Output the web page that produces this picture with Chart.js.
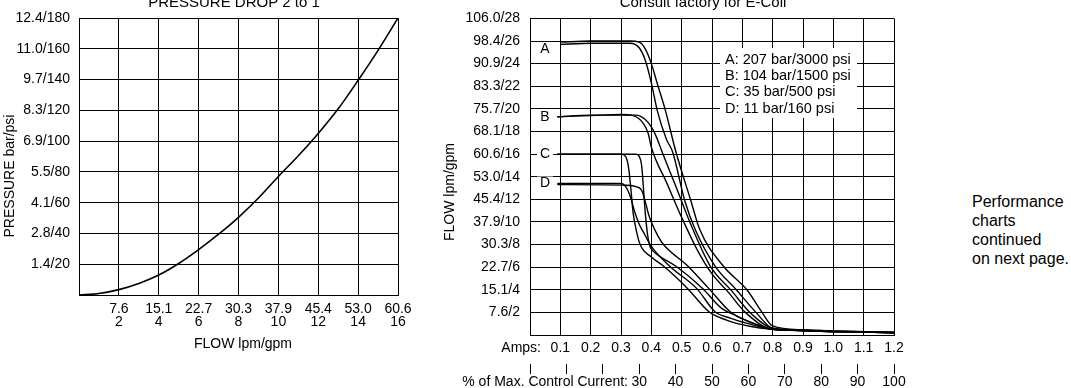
<!DOCTYPE html>
<html>
<head>
<meta charset="utf-8">
<script src="https://cdn.jsdelivr.net/npm/chart.js@4"></script>
<style>
  body { margin: 0; background: #fff; width: 1071px; height: 388px; overflow: hidden; position: relative;
         font-family: "Liberation Sans", Arial, sans-serif; }
  #pressureChart { position: absolute; left: 0; top: 0; }
  #flowChart { position: absolute; left: 430px; top: 0; }
  #note { position: absolute; left: 972px; top: 192px; font-size: 16px; line-height: 19px; color: #000; }
</style>
</head>
<body>
<canvas id="pressureChart" width="430" height="388"></canvas>
<canvas id="flowChart" width="510" height="388"></canvas>
<div id="note">Performance<br>charts<br>continued<br>on next page.</div>
<script>
// --- pressure drop chart ---
const dropFlowGpm = [0, 1, 2, 3, 4, 5, 6, 7, 8, 9, 10, 11, 12, 13, 14, 15, 16];
const dropPressurePsi = [0, 1, 3.5, 7.5, 13, 20.5, 29.5, 39.5, 50.5, 63, 77, 90.5, 105, 121, 139.5, 159, 180];
const dropLpmTicks = ["7.6", "15.1", "22.7", "30.3", "37.9", "45.4", "53.0", "60.6"];
const dropGpmTicks = ["2", "4", "6", "8", "10", "12", "14", "16"];
const dropPressureTicks = ["1.4/20", "2.8/40", "4.1/60", "5.5/80", "6.9/100", "8.3/120", "9.7/140", "11.0/160", "12.4/180"];

// --- flow vs current chart ---
const flowTicks = ["7.6/2", "15.1/4", "22.7/6", "30.3/8", "37.9/10", "45.4/12", "53.0/14",
                   "60.6/16", "68.1/18", "75.7/20", "83.3/22", "90.9/24", "98.4/26", "106.0/28"];
const ampTicks = ["0.1", "0.2", "0.3", "0.4", "0.5", "0.6", "0.7", "0.8", "0.9", "1.0", "1.1", "1.2"];
const currentTicks = ["30", "40", "50", "60", "70", "80", "90", "100"];
const curveNames = ["A", "B", "C", "D"];
const legendLines = ["A: 207 bar/3000 psi", "B: 104 bar/1500 psi", "C: 35 bar/500 psi", "D: 11 bar/160 psi"];

const a1Amps = [0.1, 0.2, 0.33, 0.36, 0.38, 0.40, 0.42, 0.45, 0.47, 0.51, 0.545, 0.61, 0.68, 0.745, 0.8, 0.9, 1.0, 1.1, 1.2];
const a1Flow = [25.7, 25.8, 25.8, 25.4, 24.3, 22.3, 19.8, 17.3, 16.2, 11.9, 9.3, 6.1, 4.0, 2.0, 0.6, 0.45, 0.35, 0.3, 0.25];
const a2Amps = [0.1, 0.2, 0.33, 0.36, 0.38, 0.40, 0.42, 0.445, 0.48, 0.53, 0.56, 0.637, 0.715, 0.765, 0.8, 0.9, 1.0, 1.1, 1.2];
const a2Flow = [25.9, 26.0, 26.0, 25.9, 25.3, 24.0, 22.2, 20.0, 16.3, 11.9, 9.3, 6.1, 4.0, 2.0, 0.8, 0.45, 0.35, 0.3, 0.25];

const b1Amps = [0.09, 0.2, 0.3, 0.34, 0.374, 0.39, 0.40, 0.45, 0.50, 0.55, 0.60, 0.65, 0.71, 0.8, 0.9, 1.0, 1.1, 1.2];
const b1Flow = [19.3, 19.4, 19.5, 19.4, 18.7, 17.8, 16.6, 13.5, 10.4, 7.6, 5.4, 3.9, 2.0, 0.5, 0.4, 0.3, 0.3, 0.2];
const b2Amps = [0.09, 0.2, 0.35, 0.378, 0.40, 0.417, 0.434, 0.48, 0.533, 0.594, 0.665, 0.725, 0.8, 0.9, 1.0, 1.1, 1.2];
const b2Flow = [19.3, 19.45, 19.45, 19.1, 18.4, 17.5, 16.3, 13.2, 9.6, 6.1, 3.9, 2.0, 0.6, 0.4, 0.3, 0.3, 0.2];

const c1Amps = [0.09, 0.30, 0.315, 0.325, 0.333, 0.34, 0.35, 0.363, 0.40, 0.44, 0.52, 0.59, 0.65, 0.72, 0.8, 0.9, 1.0, 1.2];
const c1Flow = [16, 16, 15.8, 14.8, 12.8, 10.8, 9.3, 8.0, 6.9, 6.1, 4.1, 2.06, 1.3, 0.8, 0.5, 0.4, 0.3, 0.2];
const c2Amps = [0.09, 0.35, 0.36, 0.368, 0.374, 0.38, 0.388, 0.396, 0.40, 0.42, 0.48, 0.57, 0.63, 0.68, 0.74, 0.8, 0.9, 1.0, 1.2];
const c2Flow = [16, 16, 15.8, 15.0, 13.0, 10.8, 8.8, 7.8, 7.6, 7.1, 6.1, 4.1, 2.4, 1.7, 1.0, 0.5, 0.4, 0.3, 0.2];

const d1Amps = [0.09, 0.30, 0.315, 0.33, 0.345, 0.36, 0.38, 0.396, 0.46, 0.55, 0.61, 0.66, 0.72, 0.8, 0.9, 1.0, 1.2];
const d1Flow = [13.4, 13.4, 13.15, 12.3, 10.9, 9.8, 8.8, 8.0, 6.1, 4.1, 2.06, 1.5, 1.0, 0.5, 0.4, 0.3, 0.2];
const d2Amps = [0.09, 0.32, 0.352, 0.368, 0.379, 0.39, 0.40, 0.423, 0.44, 0.52, 0.59, 0.66, 0.72, 0.8, 0.9, 1.0, 1.2];
const d2Flow = [13.3, 13.25, 13.1, 12.8, 11.9, 10.75, 10.0, 8.7, 8.0, 6.1, 4.1, 2.06, 1.2, 0.5, 0.4, 0.3, 0.2];

Chart.defaults.font.family = '"Liberation Sans", Arial, sans-serif';
Chart.defaults.font.size = 14;
Chart.defaults.color = "#000";

function toPoints(xs, ys) {
  return xs.map((x, i) => ({ x: x, y: ys[i] }));
}

function lineSet(xs, ys, width) {
  return {
    data: toPoints(xs, ys),
    borderColor: "#000",
    borderWidth: width,
    pointRadius: 0,
    fill: false,
    cubicInterpolationMode: "monotone"
  };
}

function drawText(ctx, text, x, y, align, size, rotate) {
  ctx.save();
  ctx.font = size + 'px "Liberation Sans", Arial, sans-serif';
  ctx.fillStyle = "#000";
  ctx.textAlign = align;
  ctx.textBaseline = "middle";
  ctx.translate(x, y);
  if (rotate) ctx.rotate(-Math.PI / 2);
  ctx.fillText(text, 0, 0);
  ctx.restore();
}

const pressureText = {
  id: "pressureText",
  afterDraw(chart) {
    const ctx = chart.ctx;
    ctx.save();
    ctx.font = '15px "Liberation Sans", Arial, sans-serif';
    ctx.fillStyle = "#000";
    ctx.textAlign = "center";
    ctx.textBaseline = "alphabetic";
    ctx.fillText("PRESSURE DROP 2 to 1", 234, 7);
    ctx.restore();
    drawText(ctx, "PRESSURE bar/psi", 10, 176, "center", 14, true);
    drawText(ctx, "FLOW lpm/gpm", 243, 344, "center", 14, false);
  }
};

const flowText = {
  id: "flowText",
  beforeDatasetsDraw(chart) {
    const ctx = chart.ctx;
    const ys = chart.scales.y;
    // legend box over the grid
    ctx.save();
    ctx.fillStyle = "#fff";
    ctx.fillRect(290, 48, 137, 70);
    ctx.restore();
    legendLines.forEach((t, i) => drawText(ctx, t, 295, 59.5 + i * 16.4, "left", 14.5, false));
    // curve letters
    const starts = [a1Flow[0] - 0.4, b1Flow[0], c1Flow[0], d1Flow[0]];
    starts.forEach((f, i) => {
      const cy = ys.getPixelForValue(f);
      ctx.save();
      ctx.fillStyle = "#fff";
      ctx.fillRect(107, cy - 7, 16, 14);
      ctx.restore();
      drawText(ctx, curveNames[i], 115, cy, "center", 14, false);
    });
  },
  afterDraw(chart) {
    const ctx = chart.ctx;
    ctx.save();
    ctx.font = '15px "Liberation Sans", Arial, sans-serif';
    ctx.fillStyle = "#000";
    ctx.textAlign = "center";
    ctx.textBaseline = "alphabetic";
    ctx.fillText("Consult factory for E-Coil", 273, 7);
    ctx.restore();
    drawText(ctx, "FLOW lpm/gpm", 20, 192, "center", 14, true);
    drawText(ctx, "Amps:", 111, 348, "right", 14, false);
    drawText(ctx, "% of Max. Control Current:", 198, 382, "right", 14, false);
  }
};

const gridStyle = { color: "#000", lineWidth: 1, drawTicks: false };
const borderStyle = { color: "#000", width: 1 };

new Chart(document.getElementById("pressureChart"), {
  type: "line",
  data: { datasets: [lineSet(dropFlowGpm, dropPressurePsi, 1.6)] },
  options: {
    responsive: false,
    animation: false,
    devicePixelRatio: 1,
    layout: { padding: { top: 18, right: 32, bottom: 0, left: 0 } },
    plugins: { legend: { display: false }, tooltip: { enabled: false } },
    scales: {
      x: {
        type: "linear", min: 0, max: 16,
        afterFit: (s) => { s.height = 93; },
        grid: gridStyle, border: borderStyle,
        ticks: {
          stepSize: 2, padding: 8, autoSkip: false, maxRotation: 0,
          font: { size: 14, lineHeight: 13 / 14 },
          callback: (v) => {
            const i = Math.round(v / 2) - 1;
            return i < 0 ? "" : [dropLpmTicks[i], dropGpmTicks[i]];
          }
        }
      },
      y: {
        type: "linear", min: 0, max: 180,
        afterFit: (s) => { s.width = 79; },
        grid: gridStyle, border: borderStyle,
        ticks: {
          stepSize: 20, padding: 9, autoSkip: false,
          callback: (v) => {
            const i = Math.round(v / 20) - 1;
            return i < 0 ? "" : dropPressureTicks[i];
          }
        }
      }
    }
  },
  plugins: [pressureText]
});

new Chart(document.getElementById("flowChart"), {
  type: "line",
  data: {
    datasets: [
      lineSet(a1Amps, a1Flow, 1.4), lineSet(a2Amps, a2Flow, 1.4),
      lineSet(b1Amps, b1Flow, 1.4), lineSet(b2Amps, b2Flow, 1.4),
      lineSet(c1Amps, c1Flow, 1.4), lineSet(c2Amps, c2Flow, 1.4),
      lineSet(d1Amps, d1Flow, 1.4), lineSet(d2Amps, d2Flow, 1.4)
    ]
  },
  options: {
    responsive: false,
    animation: false,
    devicePixelRatio: 1,
    layout: { padding: { top: 18, right: 46, bottom: 0, left: 0 } },
    plugins: { legend: { display: false }, tooltip: { enabled: false } },
    scales: {
      x: {
        type: "linear", position: "bottom", weight: 0, min: 0, max: 1.2,
        afterFit: (s) => { s.height = 29; },
        grid: gridStyle, border: borderStyle,
        ticks: {
          stepSize: 0.1, padding: 5, autoSkip: false, maxRotation: 0,
          callback: (v) => {
            const i = Math.round(v * 10) - 1;
            return i < 0 ? "" : ampTicks[i];
          }
        }
      },
      pct: {
        type: "linear", position: "bottom", weight: 1, min: 0, max: 100,
        afterFit: (s) => { s.height = 24; },
        grid: { drawOnChartArea: false, drawTicks: true, tickLength: 10, tickColor: "#000", tickWidth: 1 },
        border: { display: false },
        ticks: {
          stepSize: 10, padding: 1, autoSkip: false, maxRotation: 0,
          font: { size: 14, lineHeight: 1 },
          callback: (v) => {
            const i = Math.round(v / 10) - 3;
            return i < 0 ? "" : currentTicks[i];
          }
        }
      },
      y: {
        type: "linear", min: 0, max: 28,
        afterFit: (s) => { s.width = 100; },
        grid: gridStyle, border: borderStyle,
        ticks: {
          stepSize: 2, padding: 10, autoSkip: false,
          callback: (v) => {
            const i = Math.round(v / 2) - 1;
            return i < 0 ? "" : flowTicks[i];
          }
        }
      }
    }
  },
  plugins: [flowText]
});
</script>
</body>
</html>
